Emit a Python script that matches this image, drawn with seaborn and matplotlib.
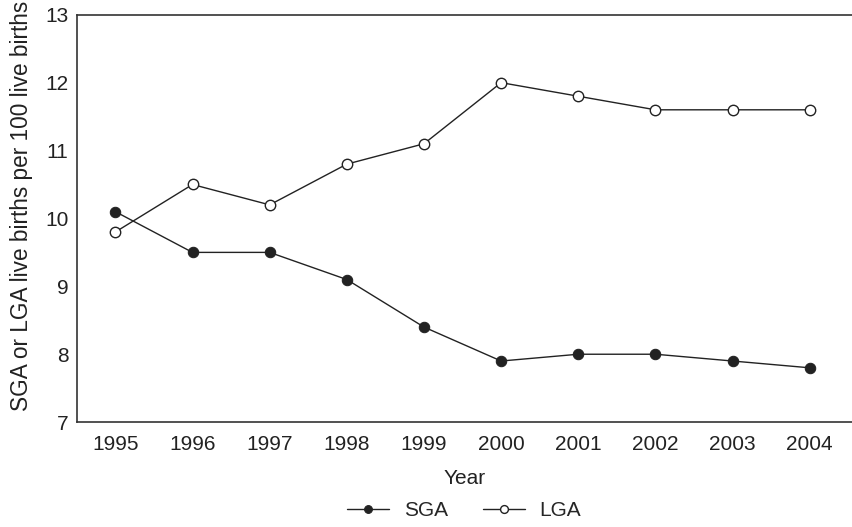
import pandas as pd
import matplotlib.pyplot as plt
import seaborn as sns

# data
years = [1995, 1996, 1997, 1998, 1999, 2000, 2001, 2002, 2003, 2004]
sga = [10.1, 9.5, 9.5, 9.1, 8.4, 7.9, 8.0, 8.0, 7.9, 7.8]
lga = [9.8, 10.5, 10.2, 10.8, 11.1, 12.0, 11.8, 11.6, 11.6, 11.6]

df = pd.DataFrame({'Year': years, 'SGA': sga, 'LGA': lga})

sns.set_theme(style='white')
plt.rcParams['font.family'] = ['Liberation Sans', 'DejaVu Sans']

fig = plt.figure(figsize=(8.53, 5.27), dpi=100)
ax = fig.add_axes([0.090, 0.199, 0.910, 0.773])

ink = '#222222'
sns.lineplot(data=df, x='Year', y='SGA', ax=ax, color=ink, lw=1.0,
             marker='o', markersize=7.5, markerfacecolor=ink,
             markeredgecolor=ink, label='SGA')
sns.lineplot(data=df, x='Year', y='LGA', ax=ax, color=ink, lw=1.0,
             marker='o', markersize=7.5, markerfacecolor='white',
             markeredgecolor=ink, markeredgewidth=1.0, label='LGA')

ax.set_xlim(1994.5, 2004.56)
ax.set_ylim(7, 13)
ax.set_xticks(years)
ax.set_yticks(range(7, 14))
ax.tick_params(axis='x', labelsize=15, colors=ink, length=0, pad=9)
ax.tick_params(axis='y', labelsize=15, colors=ink, length=0, pad=6)
ax.set_xlabel('Year', fontsize=15, color=ink, labelpad=11)
ax.set_ylabel('SGA or LGA live births per 100 live births', fontsize=16.3,
              color=ink)
ax.yaxis.set_label_coords(-0.057, 0.53)

for side in ['left', 'bottom', 'top']:
    ax.spines[side].set_color('#333333')
    ax.spines[side].set_linewidth(1.2)
ax.spines['right'].set_visible(False)

leg = ax.legend(loc='upper center', bbox_to_anchor=(0.499, -0.148), ncol=2,
                frameon=False, fontsize=15, markerscale=0.75,
                handlelength=2.0, columnspacing=1.7, handletextpad=0.7)

fig.savefig('out.png', dpi=100)
